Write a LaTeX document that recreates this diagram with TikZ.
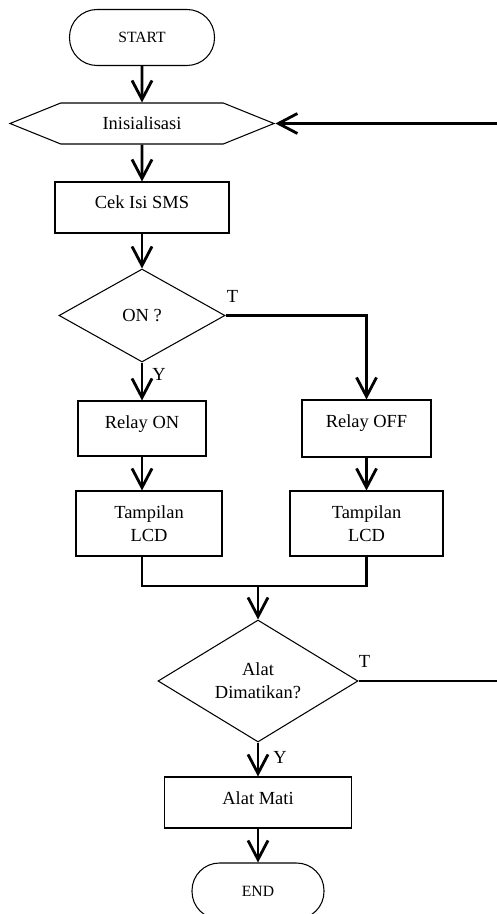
\documentclass[tikz,border=0pt]{standalone}
\usepackage{fontspec}
\setmainfont{Liberation Serif}
\usetikzlibrary{arrows.meta,shapes.geometric,shapes.symbols,positioning}

\begin{document}
\begin{tikzpicture}[node distance=1.92cm,>={Straight Barb[length=0.38cm,width=0.4cm]},font=\fontsize{10.5}{13}\selectfont]
		\tikzstyle{terminal}=[rectangle, rounded corners=0.55cm, draw=black, line width=0.6pt, minimum width=2.9cm, minimum height=1.12cm, font=\fontsize{8.9}{10}\selectfont]
		\tikzstyle{hexa}=[signal, signal to=east and west, signal pointer angle=44, draw=black, line width=0.6pt, minimum width=5.28cm, minimum height=0.82cm, inner sep=0pt]
		\tikzstyle{process}=[rectangle, draw=black, line width=0.6pt, inner sep=0pt, text height=0.54cm]
		\tikzstyle{process two}=[rectangle, draw=black, line width=0.6pt, inner sep=0pt, minimum height=1.3cm, align=center]
		\tikzstyle{decision}=[diamond, draw=black, line width=0.6pt, inner sep=0pt, align=center]
		\tikzstyle{conn}=[draw, line width=1.6pt]
		\tikzstyle{flow}=[conn, ->]
		\tikzstyle{answer}=[inner sep=0pt]

		\useasboundingbox (0,0) rectangle (9.94,-18.28);

		\node [terminal] (start) at (2.84,-0.75) {START};
		\node [hexa] (ini) [below of=start, node distance=1.72cm] {Inisialisasi};
		\node [process, minimum width=3.48cm, text depth=0.48cm] (cek) [below of=ini, node distance=1.68cm] {Cek Isi SMS};
		\node [decision, minimum width=3.32cm, minimum height=1.86cm] (on) [below of=cek, node distance=2.16cm] {ON ?};
		\node [process, minimum width=2.56cm, text depth=0.56cm] (ron) [below of=on, node distance=2.26cm] {Relay ON};
		\node [process, minimum width=2.58cm, text depth=0.6cm] (roff) [right of=ron, node distance=4.49cm] {Relay OFF};
		\node [process two, minimum width=2.92cm] (lcd1) [below of=ron, node distance=1.9cm, xshift=0.14cm] {Tampilan\\LCD};
		\node [process two, minimum width=3.06cm] (lcd2) [below of=roff, node distance=1.9cm] {Tampilan\\LCD};
		\node [decision, minimum width=4cm, minimum height=2.36cm] (off) at (5.16,-13.62) {Alat\\Dimatikan?};
		\node [process, minimum width=3.74cm, text depth=0.48cm] (mati) [below of=off, node distance=2.43cm] {Alat Mati};
		\node [terminal, minimum width=2.64cm] (end) [below of=mati, node distance=1.77cm] {END};

		\node [answer] (t1) at (on.east) [xshift=0.14cm, yshift=0.38cm] {T};
		\node [answer] (y1) at (on.south) [xshift=0.34cm, yshift=-0.24cm] {Y};
		\node [answer] (t2) at (off.east) [xshift=0.12cm, yshift=0.4cm] {T};
		\node [answer] (y2) at (off.south) [xshift=0.44cm, yshift=-0.3cm] {Y};

		\coordinate (merge) at (5.16,-11.72);
		\coordinate (back) at (10.05,-13.62);

		\draw [flow] (start) -- (ini);
		\draw [flow] (ini) -- (cek);
		\draw [flow] (cek) -- (on);
		\draw [flow] (on) -- (ron);
		\draw [flow] (on.east) -| (roff.north);
		\draw [flow] (ron.south) -- (ron.south |- lcd1.north);
		\draw [flow] (roff) -- (lcd2);
		\draw [conn] (ron.south |- lcd1.south) |- (lcd2.south |- merge) -- (lcd2.south);
		\draw [flow] (merge) -- (off);
		\draw [flow] (off) -- (mati);
		\draw [flow] (mati) -- (end);
		\draw [flow] (off.east) -- (back) |- (ini.east);
	\end{tikzpicture}
\end{document}
